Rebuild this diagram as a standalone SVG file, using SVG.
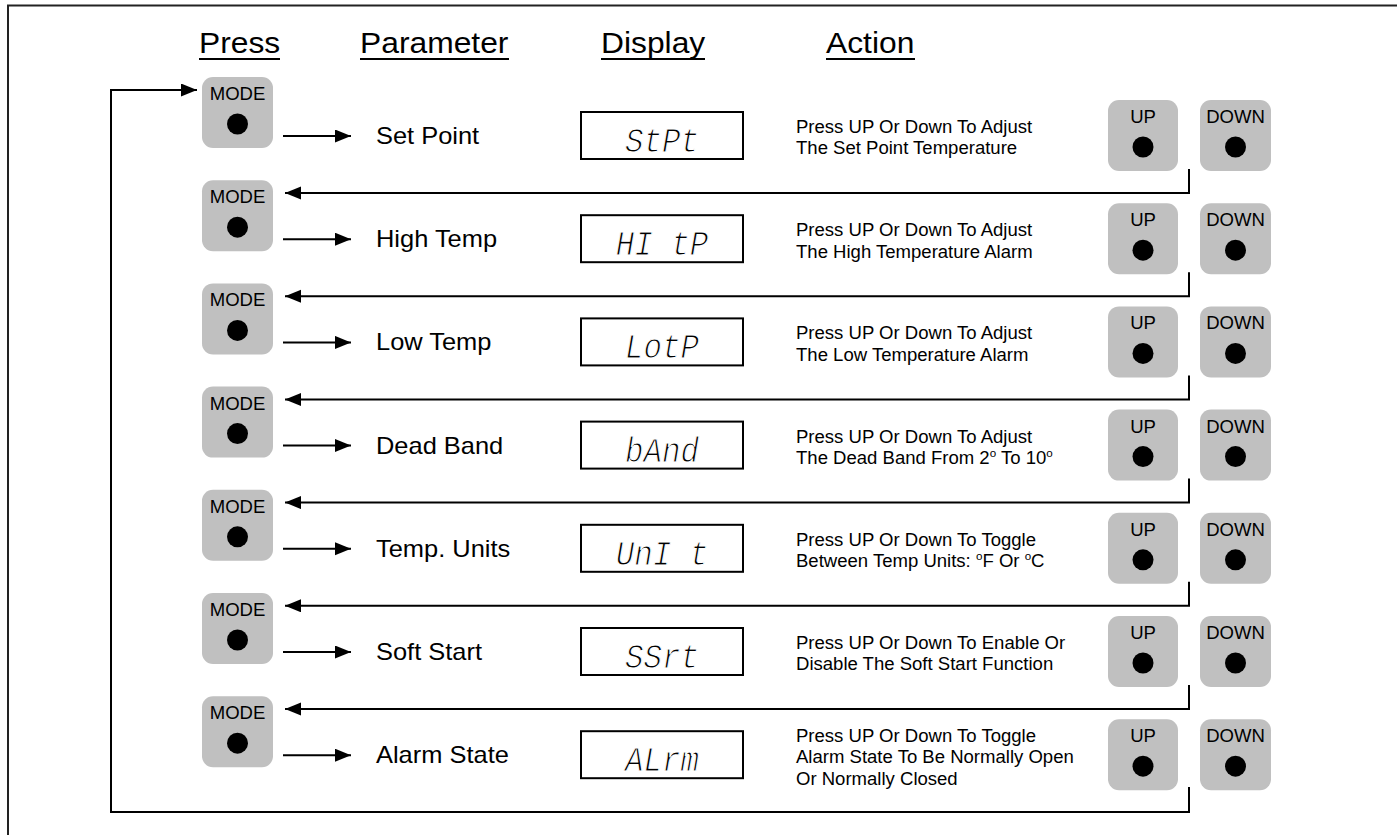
<svg xmlns="http://www.w3.org/2000/svg" width="1397" height="835" viewBox="0 0 1397 835">
<style>
text{font-family:"Liberation Sans",Arial,sans-serif;fill:#000}
.btn{fill:#c0c0c0}
.bt{font-size:17.5px;text-anchor:middle}
.hdr{font-size:30px}
.ul{stroke:#000;stroke-width:2.2}
.lbl{font-size:24px}
.act{font-size:17.5px}
.box{fill:#fff;stroke:#000;stroke-width:2}
.disp{font-family:"Liberation Mono","DejaVu Sans Mono",monospace;font-size:28px;font-style:italic;text-anchor:middle;stroke:#fff;stroke-width:0.9}
.con{fill:none;stroke:#000;stroke-width:2}
.sup{font-size:11px}
</style>
<defs>
<marker id="ah" markerUnits="userSpaceOnUse" markerWidth="17" markerHeight="14" refX="16" refY="6.5" orient="auto">
<path d="M0,0 L16,6.5 L0,13 z" fill="#000"/>
</marker>
<g id="modeBtn"><rect class="btn" x="0" y="0" width="71" height="71" rx="11"/><text class="bt" transform="translate(35.5,23) scale(1.06,1)">MODE</text><circle cx="35.5" cy="47" r="10.5"/></g>
<g id="upBtn"><rect class="btn" x="0" y="0" width="70" height="71" rx="11"/><text class="bt" transform="translate(35,23) scale(1.06,1)">UP</text><circle cx="35" cy="47" r="10.5"/></g>
<g id="downBtn"><rect class="btn" x="0" y="0" width="71" height="71" rx="11"/><text class="bt" transform="translate(35.5,23) scale(1.06,1)">DOWN</text><circle cx="35.5" cy="47" r="10.5"/></g>
</defs>
<rect width="1397" height="835" fill="#fff"/>
<path d="M8,835 V5.5 H1397" fill="none" stroke="#222" stroke-width="2"/>

<g id="headers">
<text class="hdr" transform="translate(199,53) scale(1.06,1)">Press</text>
<line class="ul" x1="199" y1="59" x2="280" y2="59"/>
<text class="hdr" transform="translate(360,53) scale(1.06,1)">Parameter</text>
<line class="ul" x1="360" y1="59" x2="509" y2="59"/>
<text class="hdr" transform="translate(601,53) scale(1.06,1)">Display</text>
<line class="ul" x1="601" y1="59" x2="705" y2="59"/>
<text class="hdr" transform="translate(826,53) scale(1.06,1)">Action</text>
<line class="ul" x1="826" y1="59" x2="915" y2="59"/>
</g>

<g id="connectors">
<path class="con" marker-end="url(#ah)" d="M283,136 H351"/>
<path class="con" marker-end="url(#ah)" d="M283,239.2 H351"/>
<path class="con" marker-end="url(#ah)" d="M283,342.4 H351"/>
<path class="con" marker-end="url(#ah)" d="M283,445.6 H351"/>
<path class="con" marker-end="url(#ah)" d="M283,548.8 H351"/>
<path class="con" marker-end="url(#ah)" d="M283,652 H351"/>
<path class="con" marker-end="url(#ah)" d="M283,755.2 H351"/>
<path class="con" marker-end="url(#ah)" d="M1189,169 V193 H285"/>
<path class="con" marker-end="url(#ah)" d="M1189,272.2 V296.2 H285"/>
<path class="con" marker-end="url(#ah)" d="M1189,375.4 V399.4 H285"/>
<path class="con" marker-end="url(#ah)" d="M1189,478.6 V502.6 H285"/>
<path class="con" marker-end="url(#ah)" d="M1189,581.8 V605.8 H285"/>
<path class="con" marker-end="url(#ah)" d="M1189,685 V709 H285"/>
<path class="con" marker-end="url(#ah)" d="M1189,787 V812 H111 V90 H197"/>
</g>

<g id="row1">
<use id="mode1" href="#modeBtn" x="202" y="77"/>
<text id="param1" class="lbl" transform="translate(376,144) scale(1.06,1)">Set Point</text>
<g id="disp1"><rect class="box" x="581" y="112" width="162" height="47"/><text class="disp" transform="translate(662,152) scale(1.1,1.25)">StPt</text></g>
<text id="act1" class="act" transform="translate(796,133) scale(1.06,1)"><tspan x="0" y="0">Press UP Or Down To Adjust</tspan><tspan x="0" y="21.5">The Set Point Temperature</tspan></text>
<use id="up1" href="#upBtn" x="1108" y="100"/>
<use id="down1" href="#downBtn" x="1200" y="100"/>
</g>

<g id="row2" transform="translate(0,103.2)">
<use id="mode2" href="#modeBtn" x="202" y="77"/>
<text id="param2" class="lbl" transform="translate(376,144) scale(1.06,1)">High Temp</text>
<g id="disp2"><rect class="box" x="581" y="112" width="162" height="47"/><text class="disp" transform="translate(662,152) scale(1.1,1.25)">HI tP</text></g>
<text id="act2" class="act" transform="translate(796,133) scale(1.06,1)"><tspan x="0" y="0">Press UP Or Down To Adjust</tspan><tspan x="0" y="21.5">The High Temperature Alarm</tspan></text>
<use id="up2" href="#upBtn" x="1108" y="100"/>
<use id="down2" href="#downBtn" x="1200" y="100"/>
</g>

<g id="row3" transform="translate(0,206.4)">
<use id="mode3" href="#modeBtn" x="202" y="77"/>
<text id="param3" class="lbl" transform="translate(376,144) scale(1.06,1)">Low Temp</text>
<g id="disp3"><rect class="box" x="581" y="112" width="162" height="47"/><text class="disp" transform="translate(662,152) scale(1.1,1.25)">LotP</text></g>
<text id="act3" class="act" transform="translate(796,133) scale(1.06,1)"><tspan x="0" y="0">Press UP Or Down To Adjust</tspan><tspan x="0" y="21.5">The Low Temperature Alarm</tspan></text>
<use id="up3" href="#upBtn" x="1108" y="100"/>
<use id="down3" href="#downBtn" x="1200" y="100"/>
</g>

<g id="row4" transform="translate(0,309.6)">
<use id="mode4" href="#modeBtn" x="202" y="77"/>
<text id="param4" class="lbl" transform="translate(376,144) scale(1.06,1)">Dead Band</text>
<g id="disp4"><rect class="box" x="581" y="112" width="162" height="47"/><text class="disp" transform="translate(662,152) scale(1.1,1.25)">bAnd</text></g>
<text id="act4" class="act" transform="translate(796,133) scale(1.06,1)"><tspan x="0" y="0">Press UP Or Down To Adjust</tspan><tspan x="0" y="21.5">The Dead Band From 2<tspan class="sup" dy="-7">o</tspan><tspan dy="7"> To 10</tspan><tspan class="sup" dy="-7">o</tspan></tspan></text>
<use id="up4" href="#upBtn" x="1108" y="100"/>
<use id="down4" href="#downBtn" x="1200" y="100"/>
</g>

<g id="row5" transform="translate(0,412.8)">
<use id="mode5" href="#modeBtn" x="202" y="77"/>
<text id="param5" class="lbl" transform="translate(376,144) scale(1.06,1)">Temp. Units</text>
<g id="disp5"><rect class="box" x="581" y="112" width="162" height="47"/><text class="disp" transform="translate(662,152) scale(1.1,1.25)">UnI t</text></g>
<text id="act5" class="act" transform="translate(796,133) scale(1.06,1)"><tspan x="0" y="0">Press UP Or Down To Toggle</tspan><tspan x="0" y="21.5">Between Temp Units: <tspan class="sup" dy="-7">o</tspan><tspan dy="7">F Or </tspan><tspan class="sup" dy="-7">o</tspan><tspan dy="7">C</tspan></tspan></text>
<use id="up5" href="#upBtn" x="1108" y="100"/>
<use id="down5" href="#downBtn" x="1200" y="100"/>
</g>

<g id="row6" transform="translate(0,516)">
<use id="mode6" href="#modeBtn" x="202" y="77"/>
<text id="param6" class="lbl" transform="translate(376,144) scale(1.06,1)">Soft Start</text>
<g id="disp6"><rect class="box" x="581" y="112" width="162" height="47"/><text class="disp" transform="translate(662,152) scale(1.1,1.25)">SSrt</text></g>
<text id="act6" class="act" transform="translate(796,133) scale(1.06,1)"><tspan x="0" y="0">Press UP Or Down To Enable Or</tspan><tspan x="0" y="21.5">Disable The Soft Start Function</tspan></text>
<use id="up6" href="#upBtn" x="1108" y="100"/>
<use id="down6" href="#downBtn" x="1200" y="100"/>
</g>

<g id="row7" transform="translate(0,619.2)">
<use id="mode7" href="#modeBtn" x="202" y="77"/>
<text id="param7" class="lbl" transform="translate(376,144) scale(1.06,1)">Alarm State</text>
<g id="disp7"><rect class="box" x="581" y="112" width="162" height="47"/><text class="disp" transform="translate(662,152) scale(1.1,1.25)">ALrm</text></g>
<text id="act7" class="act" transform="translate(796,122.5) scale(1.06,1)"><tspan x="0" y="0">Press UP Or Down To Toggle</tspan><tspan x="0" y="21.5">Alarm State To Be Normally Open</tspan><tspan x="0" y="43">Or Normally Closed</tspan></text>
<use id="up7" href="#upBtn" x="1108" y="100"/>
<use id="down7" href="#downBtn" x="1200" y="100"/>
</g>
</svg>
